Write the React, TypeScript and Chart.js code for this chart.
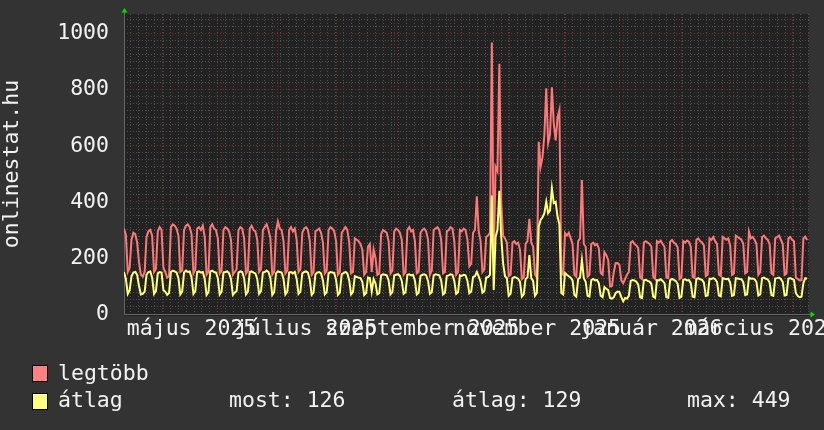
import React, { useEffect, useRef } from 'react';
import { Chart, registerables } from 'chart.js';

Chart.register(...registerables);

// Day 0 = 2025-04-10 (one point per day)
const START_UTC = Date.UTC(2025, 3, 10);
const dayOf = (y: number, m: number, d: number) => Math.round((Date.UTC(y, m, d) - START_UTC) / 86400000);

const X_MAX = 365;
const Y_MAX = 1071;

// "legtöbb" (max) series, daily
const legtobb: number[] = [
  305, 282, 150, 165,
  265, 290, 285, 255, 185, 140, 133,
  150, 275, 295, 300, 280, 150, 160,
  295, 310, 300, 165, 150, 130, 135,
  310, 320, 315, 305, 280, 150, 155,
  300, 315, 320, 310, 285, 145, 160,
  305, 310, 300, 315, 275, 140, 150,
  310, 320, 305, 300, 270, 145, 155,
  300, 310, 305, 295, 265, 140, 150,
  160, 300, 310, 305, 270, 145, 155,
  305, 315, 300, 295, 265, 150, 160,
  300, 310, 320, 300, 270, 140, 150,
  295, 330, 305, 300, 260, 145, 155,
  300, 310, 295, 305, 265, 150, 160,
  290, 305, 310, 300, 260, 140, 150,
  295, 300, 305, 290, 255, 145, 155,
  300, 310, 305, 295, 260, 140, 150,
  290, 300, 310, 300, 255, 145, 150,
  270, 265, 260, 250, 230, 140, 150,
  240, 250, 150, 230, 200, 140, 145,
  285, 300, 295, 290, 260, 145, 155,
  295, 305, 300, 290, 265, 140, 150,
  300, 310, 295, 300, 260, 145, 150,
  290, 300, 305, 295, 265, 140, 155,
  300, 305, 310, 300, 265, 145, 150,
  295, 300, 310, 305, 260, 140, 150,
  300, 295, 305, 300, 265, 170, 180,
  290, 300, 420, 295, 260, 150, 160,
  275, 280, 290, 969, 193, 526, 510,
  893, 400, 280, 270, 255, 135, 140,
  255, 260, 250, 255, 230, 125, 130,
  250, 260, 340, 255, 240, 140, 130,
  615, 526, 560, 640, 806, 610, 640,
  809, 680, 620, 700, 728, 146, 140,
  289, 280, 290, 270, 250, 140, 133,
  260, 270, 478, 250, 240, 133, 140,
  250, 255, 245, 250, 235, 146, 140,
  221, 210, 193, 98, 100, 150, 182,
  182, 175, 120, 110, 125, 140, 150,
  255, 260, 250, 245, 235, 130, 125,
  255, 260, 255, 250, 240, 133, 125,
  260, 255, 262, 250, 240, 130, 128,
  258, 264, 255, 250, 238, 125, 130,
  260, 255, 262, 258, 240, 132, 128,
  265, 270, 260, 255, 245, 135, 140,
  270, 265, 275, 260, 250, 140, 135,
  275, 270, 265, 270, 245, 140, 145,
  280, 275, 270, 265, 250, 145, 150,
  294, 270, 275, 265, 250, 140, 150,
  275, 280, 270, 265, 250, 145, 140,
  270, 275, 280, 265, 250, 140, 145,
  270, 275, 265, 260, 130, 125, 120,
  121, 270, 276, 264,
];

// "átlag" (average) series, daily
const atlag: number[] = [
  150, 125, 72, 85,
  135, 148, 150, 140, 100, 70, 72,
  80, 140, 150, 152, 130, 72, 82,
  145, 150, 148, 85, 80, 68, 75,
  150, 155, 152, 148, 128, 70, 80,
  148, 155, 150, 152, 130, 72, 82,
  150, 152, 148, 150, 125, 68, 78,
  152, 155, 150, 148, 128, 70, 80,
  148, 150, 152, 145, 125, 68, 76,
  82, 148, 152, 150, 128, 70, 80,
  150, 152, 148, 145, 125, 72, 82,
  148, 150, 155, 150, 128, 68, 78,
  145, 152, 150, 148, 125, 70, 80,
  148, 150, 145, 150, 125, 72, 80,
  145, 150, 152, 148, 122, 68, 76,
  142, 148, 150, 145, 120, 70, 78,
  145, 150, 148, 146, 122, 68, 76,
  142, 146, 150, 145, 120, 70, 78,
  135, 132, 130, 128, 115, 68, 75,
  130, 128, 80, 125, 110, 70, 74,
  138, 142, 140, 138, 120, 70, 78,
  138, 140, 142, 136, 118, 72, 78,
  140, 142, 138, 140, 120, 70, 76,
  136, 140, 142, 138, 118, 72, 78,
  138, 142, 140, 138, 120, 70, 76,
  136, 138, 142, 140, 118, 72, 78,
  138, 136, 140, 138, 118, 74, 80,
  132, 135, 150, 134, 115, 76, 82,
  130, 132, 140, 423, 86, 276, 300,
  440, 276, 182, 135, 128, 65, 72,
  128, 132, 130, 126, 115, 62, 70,
  125, 130, 210, 128, 118, 65, 75,
  312, 336, 345, 360, 401, 360, 370,
  449, 396, 400, 348, 320, 75, 70,
  146, 140, 135, 130, 120, 68, 62,
  125, 130, 193, 128, 115, 65, 62,
  121, 125, 120, 122, 110, 65, 60,
  96, 90, 85, 57, 55, 60, 75,
  80, 78, 60, 45, 57, 55, 65,
  118, 121, 120, 115, 105, 60, 57,
  120, 122, 118, 116, 108, 62, 58,
  121, 120, 124, 118, 110, 60, 58,
  120, 125, 122, 118, 108, 58, 62,
  122, 124, 120, 121, 110, 62, 60,
  125, 128, 124, 122, 112, 64, 66,
  126, 125, 128, 124, 114, 66, 63,
  128, 126, 124, 126, 112, 65, 68,
  128, 127, 125, 124, 113, 68, 70,
  130, 126, 127, 124, 114, 66, 70,
  128, 130, 126, 124, 112, 68, 65,
  127, 128, 130, 125, 114, 66, 68,
  126, 128, 125, 122, 75, 64, 60,
  62, 110, 128, 126,
];

// Month grid (major vertical lines)
const gridMonths: [number, number][] = [
  [2025, 4], [2025, 5], [2025, 6], [2025, 7], [2025, 8], [2025, 9],
  [2025, 10], [2025, 11], [2026, 0], [2026, 1], [2026, 2], [2026, 3],
];
// x-axis labels (every second month)
const labelMonths: [number, number][] = [[2025, 4], [2025, 6], [2025, 8], [2025, 10], [2026, 0], [2026, 2]];
const labelTexts = ['május 2025', 'július 2025', 'szeptember 2025', 'november 2025', 'január 2026', 'március 2026'];

const seriesNames = ['legtöbb', 'átlag'];
const statNames = ['most', 'átlag', 'max'];
const statValues = [126, 129, 449];

const RED = '#ff7878';
const YELLOW = '#ffff78';
const RED_BOX = '#ff8080';
const YELLOW_BOX = '#ffff80';
const BG = '#333333';
const PLOT_BG = '#222222';
const MAJOR = '#6e2e2e';
const MINOR = '#4e4e4e';
const AXIS = '#666666';
const ARROW = '#00dd00';
const TEXT = '#f2f2f2';
const FONT_FAMILY = '"DejaVu Sans Mono", monospace';
const FONT_SIZE = 21.5;

const framePlugin = {
  id: 'frame',
  beforeDraw(chart: any) {
    const { ctx, chartArea: a } = chart;
    ctx.save();
    ctx.fillStyle = PLOT_BG;
    ctx.fillRect(a.left, a.top, a.right - a.left, a.bottom - a.top + 2);
    ctx.restore();
  },
  beforeDatasetsDraw(chart: any) {
    const { ctx, chartArea: a } = chart;
    ctx.save();
    ctx.strokeStyle = AXIS;
    ctx.lineWidth = 1;
    ctx.beginPath();
    ctx.moveTo(a.left + 0.5, a.bottom + 0.5);
    ctx.lineTo(a.left + 0.5, a.top - 2);
    ctx.moveTo(a.left, a.bottom + 0.5);
    ctx.lineTo(a.right + 2, a.bottom + 0.5);
    ctx.stroke();
    ctx.fillStyle = ARROW;
    ctx.beginPath();
    ctx.moveTo(a.left + 0.5, a.top - 6);
    ctx.lineTo(a.left - 2.5, a.top - 1.5);
    ctx.lineTo(a.left + 3.5, a.top - 1.5);
    ctx.closePath();
    ctx.fill();
    ctx.beginPath();
    ctx.moveTo(a.right + 6, a.bottom + 0.5);
    ctx.lineTo(a.right + 1.5, a.bottom - 2.5);
    ctx.lineTo(a.right + 1.5, a.bottom + 3.5);
    ctx.closePath();
    ctx.fill();
    ctx.restore();
  },
};

export default function App() {
  const ref = useRef<HTMLCanvasElement>(null);

  useEffect(() => {
    const canvas = ref.current;
    if (!canvas) return;
    const monthIdx = gridMonths.map(([y, m]) => dayOf(y, m, 1));
    const majorSet = new Set(monthIdx);
    const minorIdx: number[] = [];
    for (let v = 3.7; v < X_MAX; v += 4.2) minorIdx.push(Math.round(v * 100) / 100);
    const xGrid = [...minorIdx, ...monthIdx].sort((p, q) => p - q);
    const labelIdx = labelMonths.map(([y, m]) => dayOf(y, m, 1) + 15);
    const yTicks: number[] = [];
    for (let v = 0; v <= 1050; v += 25) yTicks.push(v);
    const font = { family: FONT_FAMILY, size: FONT_SIZE };

    const chart = new Chart(canvas, {
      type: 'line',
      data: {
        datasets: [
          {
            label: seriesNames[1],
            data: atlag.map((v, i) => ({ x: i, y: v })),
            borderColor: YELLOW,
            backgroundColor: YELLOW,
            borderWidth: 2,
            pointRadius: 0,
            tension: 0,
            order: 1,
            xAxisID: 'x',
            yAxisID: 'y',
          },
          {
            label: seriesNames[0],
            data: legtobb.map((v, i) => ({ x: i, y: v })),
            borderColor: RED,
            backgroundColor: RED,
            borderWidth: 2,
            pointRadius: 0,
            tension: 0,
            order: 2,
            xAxisID: 'x',
            yAxisID: 'y',
          },
        ],
      },
      options: {
        animation: false,
        responsive: false,
        events: [],
        layout: { padding: { top: 14, right: 15, left: 0, bottom: 0 } },
        plugins: { legend: { display: false }, tooltip: { enabled: false } },
        scales: {
          x: {
            type: 'linear',
            min: 0,
            max: X_MAX,
            position: 'bottom',
            afterBuildTicks: (s: any) => { s.ticks = xGrid.map((v) => ({ value: v })); },
            ticks: { display: false },
            grid: {
              color: (c: any) => (majorSet.has(c.tick?.value) ? MAJOR : MINOR),
              drawTicks: false,
              lineWidth: 1,
            },
            border: { display: false, dash: [1, 2] },
            afterFit: (s: any) => { s.height = 0; s.paddingLeft = 0; s.paddingRight = 0; },
          },
          xl: {
            type: 'linear',
            min: 0,
            max: X_MAX,
            position: 'bottom',
            afterBuildTicks: (s: any) => { s.ticks = labelIdx.map((v) => ({ value: v })); },
            ticks: {
              autoSkip: false,
              maxRotation: 0,
              minRotation: 0,
              padding: 3,
              color: TEXT,
              font,
              callback: (_v: any, i: number) => labelTexts[i],
            },
            grid: { display: false, drawTicks: false },
            border: { display: false },
            afterFit: (s: any) => { s.height = 116; s.paddingLeft = 0; s.paddingRight = 0; },
          },
          y: {
            type: 'linear',
            min: 0,
            max: Y_MAX,
            position: 'left',
            afterBuildTicks: (s: any) => { s.ticks = yTicks.map((v) => ({ value: v })); },
            ticks: {
              autoSkip: false,
              padding: 15,
              color: TEXT,
              font,
              callback: (v: any) => (Number(v) % 200 === 0 ? String(v) : ''),
            },
            grid: {
              color: (c: any) => (c.tick && c.tick.value % 200 === 0 && c.tick.value > 0 ? MAJOR : MINOR),
              drawTicks: false,
              lineWidth: 1,
            },
            border: { display: false, dash: [1, 2] },
            title: {
              display: true,
              text: 'onlinestat.hu',
              color: TEXT,
              font,
              padding: { top: 0, bottom: 0 },
            },
            afterFit: (s: any) => { s.width = 124; s.paddingTop = 0; s.paddingBottom = 0; },
          },
        },
      } as any,
      plugins: [framePlugin],
    });
    return () => chart.destroy();
  }, []);

  const textStyle: React.CSSProperties = {
    position: 'absolute',
    fontFamily: FONT_FAMILY,
    fontSize: FONT_SIZE,
    lineHeight: '20px',
    color: TEXT,
    whiteSpace: 'pre',
  };
  const boxStyle = (bg: string, top: number): React.CSSProperties => ({
    position: 'absolute',
    left: 32,
    top,
    width: 14,
    height: 15,
    background: bg,
    border: '1px solid #000',
  });

  return (
    <div style={{ position: 'relative', width: 824, height: 430, background: BG, overflow: 'hidden' }}>
      <style>{'body{margin:0;background:#333333;}'}</style>
      <canvas ref={ref} width={824} height={430} style={{ position: 'absolute', left: 0, top: 0, display: 'block' }} />
      <div style={boxStyle(RED_BOX, 365)} />
      <div style={{ ...textStyle, left: 58, top: 363 }}>{seriesNames[0]}</div>
      <div style={boxStyle(YELLOW_BOX, 393)} />
      <div style={{ ...textStyle, left: 58, top: 390 }}>{seriesNames[1]}</div>
      <div style={{ ...textStyle, left: 229, top: 390 }}>{`${statNames[0]}: ${statValues[0]}`}</div>
      <div style={{ ...textStyle, left: 452, top: 390 }}>{`${statNames[1]}: ${statValues[1]}`}</div>
      <div style={{ ...textStyle, left: 687, top: 390 }}>{`${statNames[2]}: ${statValues[2]}`}</div>
    </div>
  );
}
